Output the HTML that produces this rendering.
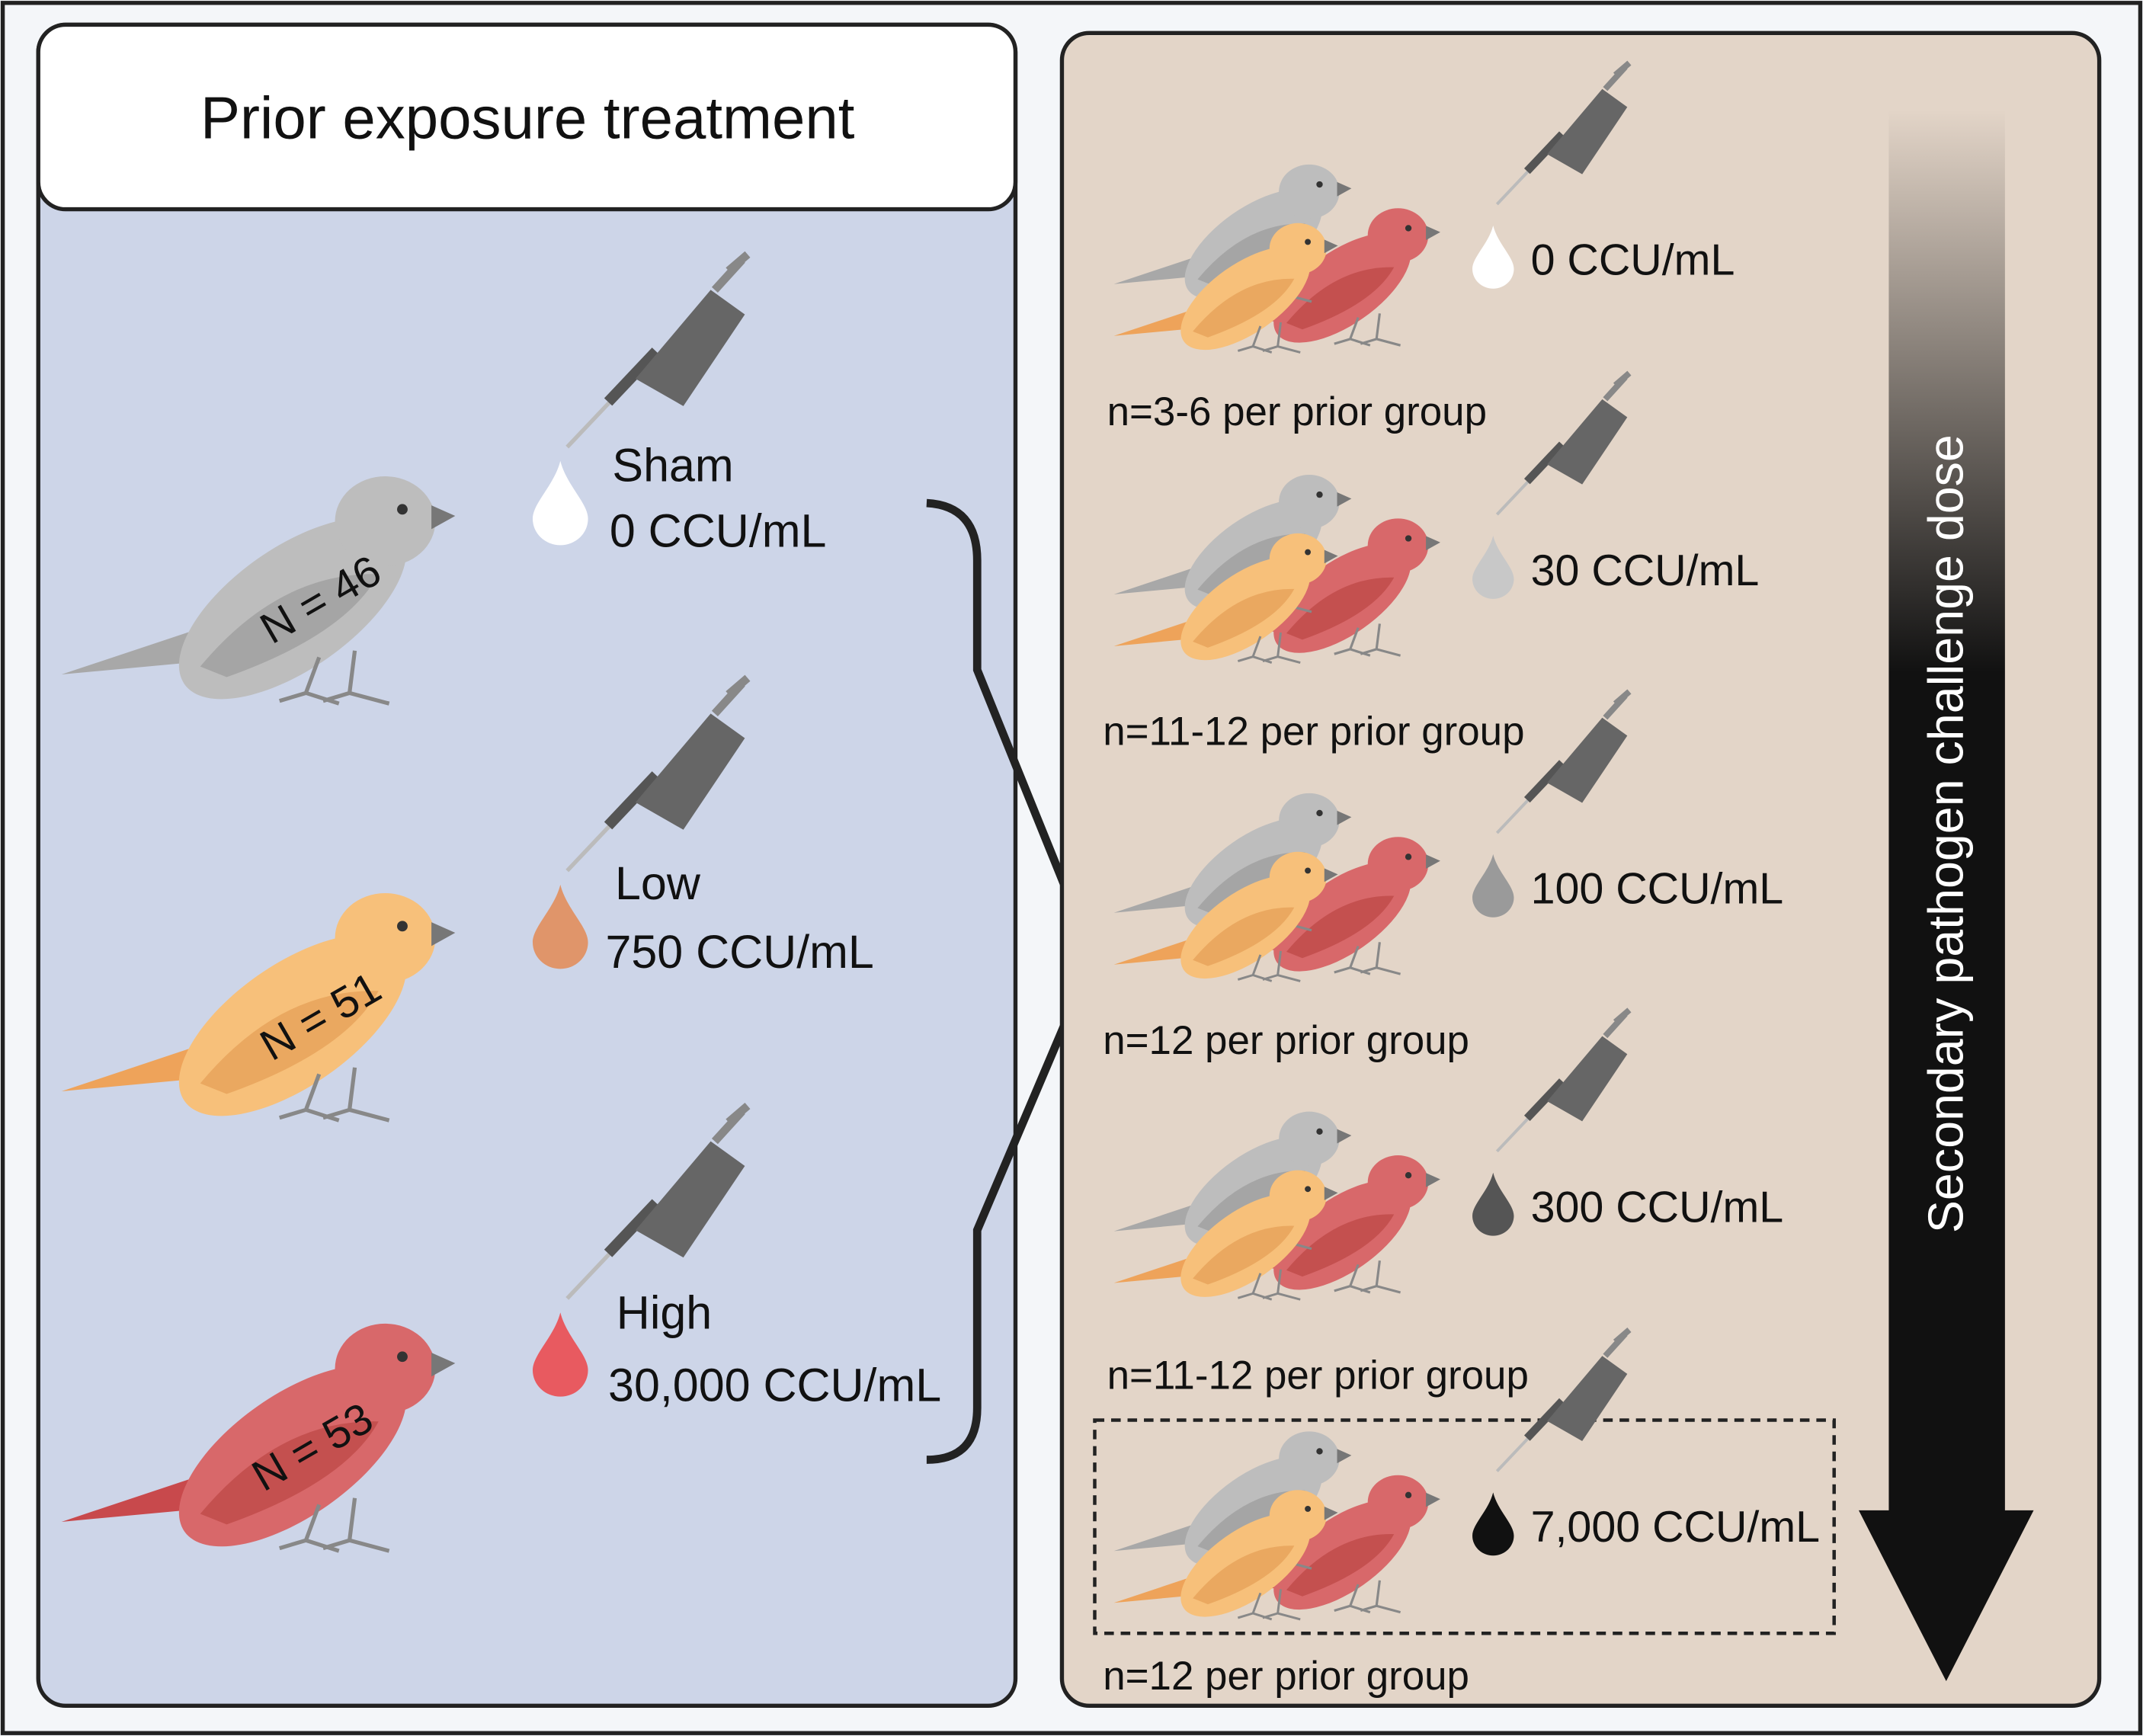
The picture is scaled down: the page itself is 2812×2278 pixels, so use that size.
<!DOCTYPE html>
<html><head><meta charset="utf-8"><style>
html,body{margin:0;padding:0;background:#f4f6f9;}
svg{display:block;}
text{font-family:"Liberation Sans",sans-serif;fill:#111;}
</style></head><body>
<svg width="2812" height="2278" viewBox="0 0 1568 1270" xmlns="http://www.w3.org/2000/svg">
<defs>
<linearGradient id="ag" x1="0" y1="0" x2="0" y2="1">
<stop offset="0" stop-color="#e3d5c8"/><stop offset="0.4" stop-color="#111"/><stop offset="1" stop-color="#111"/>
</linearGradient>
<symbol id="bird" viewBox="0 0 300 190" overflow="visible">
<path d="M0,158 L120,118 L140,145 Z" style="fill:var(--t)"/>
<ellipse cx="175" cy="108" rx="100" ry="46" transform="rotate(-35 175 108)" style="fill:var(--b)"/>
<ellipse cx="245" cy="42" rx="38" ry="34" style="fill:var(--b)"/>
<path d="M105,152 Q165,80 240,82 Q215,128 125,160 Z" style="fill:var(--w)"/>
<path d="M280,30 L298,38 L280,48 Z" fill="#777"/>
<circle cx="258" cy="33" r="4" fill="#333"/>
<path d="M195,145 L185,172 M185,172 L165,178 M185,172 L210,180 M222,140 L218,172 M218,172 L198,178 M218,172 L248,180" stroke="#888" stroke-width="3" fill="none"/>
</symbol>
<symbol id="pip" viewBox="0 0 150 150" overflow="visible">
<path d="M10,145 L45,108" stroke="#bbb" stroke-width="3"/>
<path d="M40,112 L75,75" stroke="#555" stroke-width="8"/>
<path d="M60,95 L115,30 L140,48 L95,115 Z" fill="#666"/>
<path d="M118,30 L138,8 M128,16 L142,4" stroke="#888" stroke-width="6"/>
</symbol>
<symbol id="drop" viewBox="0 0 50 70" overflow="visible">
<path d="M25,0 C30,20 48,35 48,48 A23,22 0 0 1 2,48 C2,35 20,20 25,0 Z"/>
</symbol>
</defs>
<rect x="2" y="2" width="1564" height="1266" fill="#f4f6f9" stroke="#222" stroke-width="3"/>

<g>
<rect x="28" y="18" width="715" height="1230" rx="20" fill="#cdd5e8" stroke="#222" stroke-width="3"/>
<rect x="28" y="18" width="715" height="135" rx="20" fill="#fff" stroke="#222" stroke-width="3"/>
<text x="386" y="101" font-size="43.5" text-anchor="middle">Prior exposure treatment</text>

<use href="#bird" x="45" y="340" width="290" height="185" style="--b:#bdbdbd;--t:#a8a8a8;--w:#a5a5a5"/>
<text x="240" y="448" font-size="32" transform="rotate(-30 240 448)" text-anchor="middle">N = 46</text>
<use href="#bird" x="45" y="645" width="290" height="185" style="--b:#f7c07a;--t:#eea35a;--w:#eaa860"/>
<text x="240" y="753" font-size="32" transform="rotate(-30 240 753)" text-anchor="middle">N = 51</text>
<use href="#bird" x="45" y="960" width="290" height="185" style="--b:#d8686a;--t:#c8494c;--w:#c4504f"/>
<text x="234" y="1068" font-size="32" transform="rotate(-30 234 1068)" text-anchor="middle">N = 53</text>

<use href="#pip" x="405" y="182" width="150" height="150"/>
<use href="#pip" x="405" y="492" width="150" height="150"/>
<use href="#pip" x="405" y="805" width="150" height="150"/>
<use href="#drop" x="388" y="333" width="44" height="70" fill="#fff"/>
<use href="#drop" x="388" y="643" width="44" height="70" fill="#e0956a"/>
<use href="#drop" x="388" y="956" width="44" height="70" fill="#e85a60"/>

<text x="448" y="352" font-size="34">Sham</text>
<text x="446" y="400" font-size="34">0 CCU/mL</text>
<text x="450" y="658" font-size="34">Low</text>
<text x="443" y="708" font-size="34">750 CCU/mL</text>
<text x="451" y="972" font-size="34">High</text>
<text x="445" y="1025" font-size="34">30,000 CCU/mL</text>
</g>

<path d="M678,368 Q715,370 715,410 L715,490 L800,700 L715,900 L715,1030 Q715,1068 678,1068" fill="none" stroke="#222" stroke-width="6"/>

<g>
<rect x="777" y="24" width="759" height="1224" rx="20" fill="#e3d5c8" stroke="#222" stroke-width="3"/>
<rect x="1382" y="80" width="85" height="1030" fill="url(#ag)"/>
<path d="M1360,1105 L1488,1105 L1424,1230 Z" fill="#111"/>
<text x="1436" y="610" font-size="36" text-anchor="middle" transform="rotate(-90 1436 610)" style="fill:#fff">Secondary pathogen  challenge dose</text>
<rect x="801" y="1039" width="541" height="156" fill="none" stroke="#222" stroke-width="2.5" stroke-dasharray="7,5"/>
</g>

<g id="rows"></g>
</svg>
<script>
const doses=["0 CCU/mL","30 CCU/mL","100 CCU/mL","300 CCU/mL","7,000 CCU/mL"];
const nLabels=["n=3-6 per prior group","n=11-12 per prior group","n=12 per prior group","n=11-12 per prior group","n=12 per prior group"];
const dropColors=["#ffffff","#c8c8c8","#9a9a9a","#555555","#111111"];
const rowTops=[115,342,575,808,1042];
const nY=[311,545,771,1016,1236];
const NS="http://www.w3.org/2000/svg";
const g=document.getElementById('rows');
function mk(tag,attrs){const e=document.createElementNS(NS,tag);for(const k in attrs)e.setAttribute(k,attrs[k]);g.appendChild(e);return e;}
rowTops.forEach((t,i)=>{
  let e;
  e=mk('use',{href:'#bird',x:0,y:0,width:175,height:112,style:'--b:#d8686a;--t:#c8494c;--w:#c4504f',transform:`translate(880,${t+32})`});
  
  
  e=mk('use',{href:'#bird',x:0,y:0,width:175,height:112,style:'--b:#bdbdbd;--t:#a8a8a8;--w:#a5a5a5',transform:`translate(815,${t})`});
  
  
  e=mk('use',{href:'#bird',x:0,y:0,width:165,height:108,style:'--b:#f7c07a;--t:#eea35a;--w:#eaa860',transform:`translate(815,${t+42})`});
  
  
  e=mk('use',{href:'#pip',x:1088,y:t-72,width:110,height:110});
  
  
  e=mk('use',{href:'#drop',x:1076,y:t+48,width:33,height:50,fill:dropColors[i]});
  
  
  e=mk('text',{x:1120,y:t+86,'font-size':32});
  e.textContent=doses[i];
  
  
  e=mk('text',{x:i===0||i===3?810:807,y:nY[i],'font-size':29.5});
  e.textContent=nLabels[i];
  
  
});
</script>
</body></html>
